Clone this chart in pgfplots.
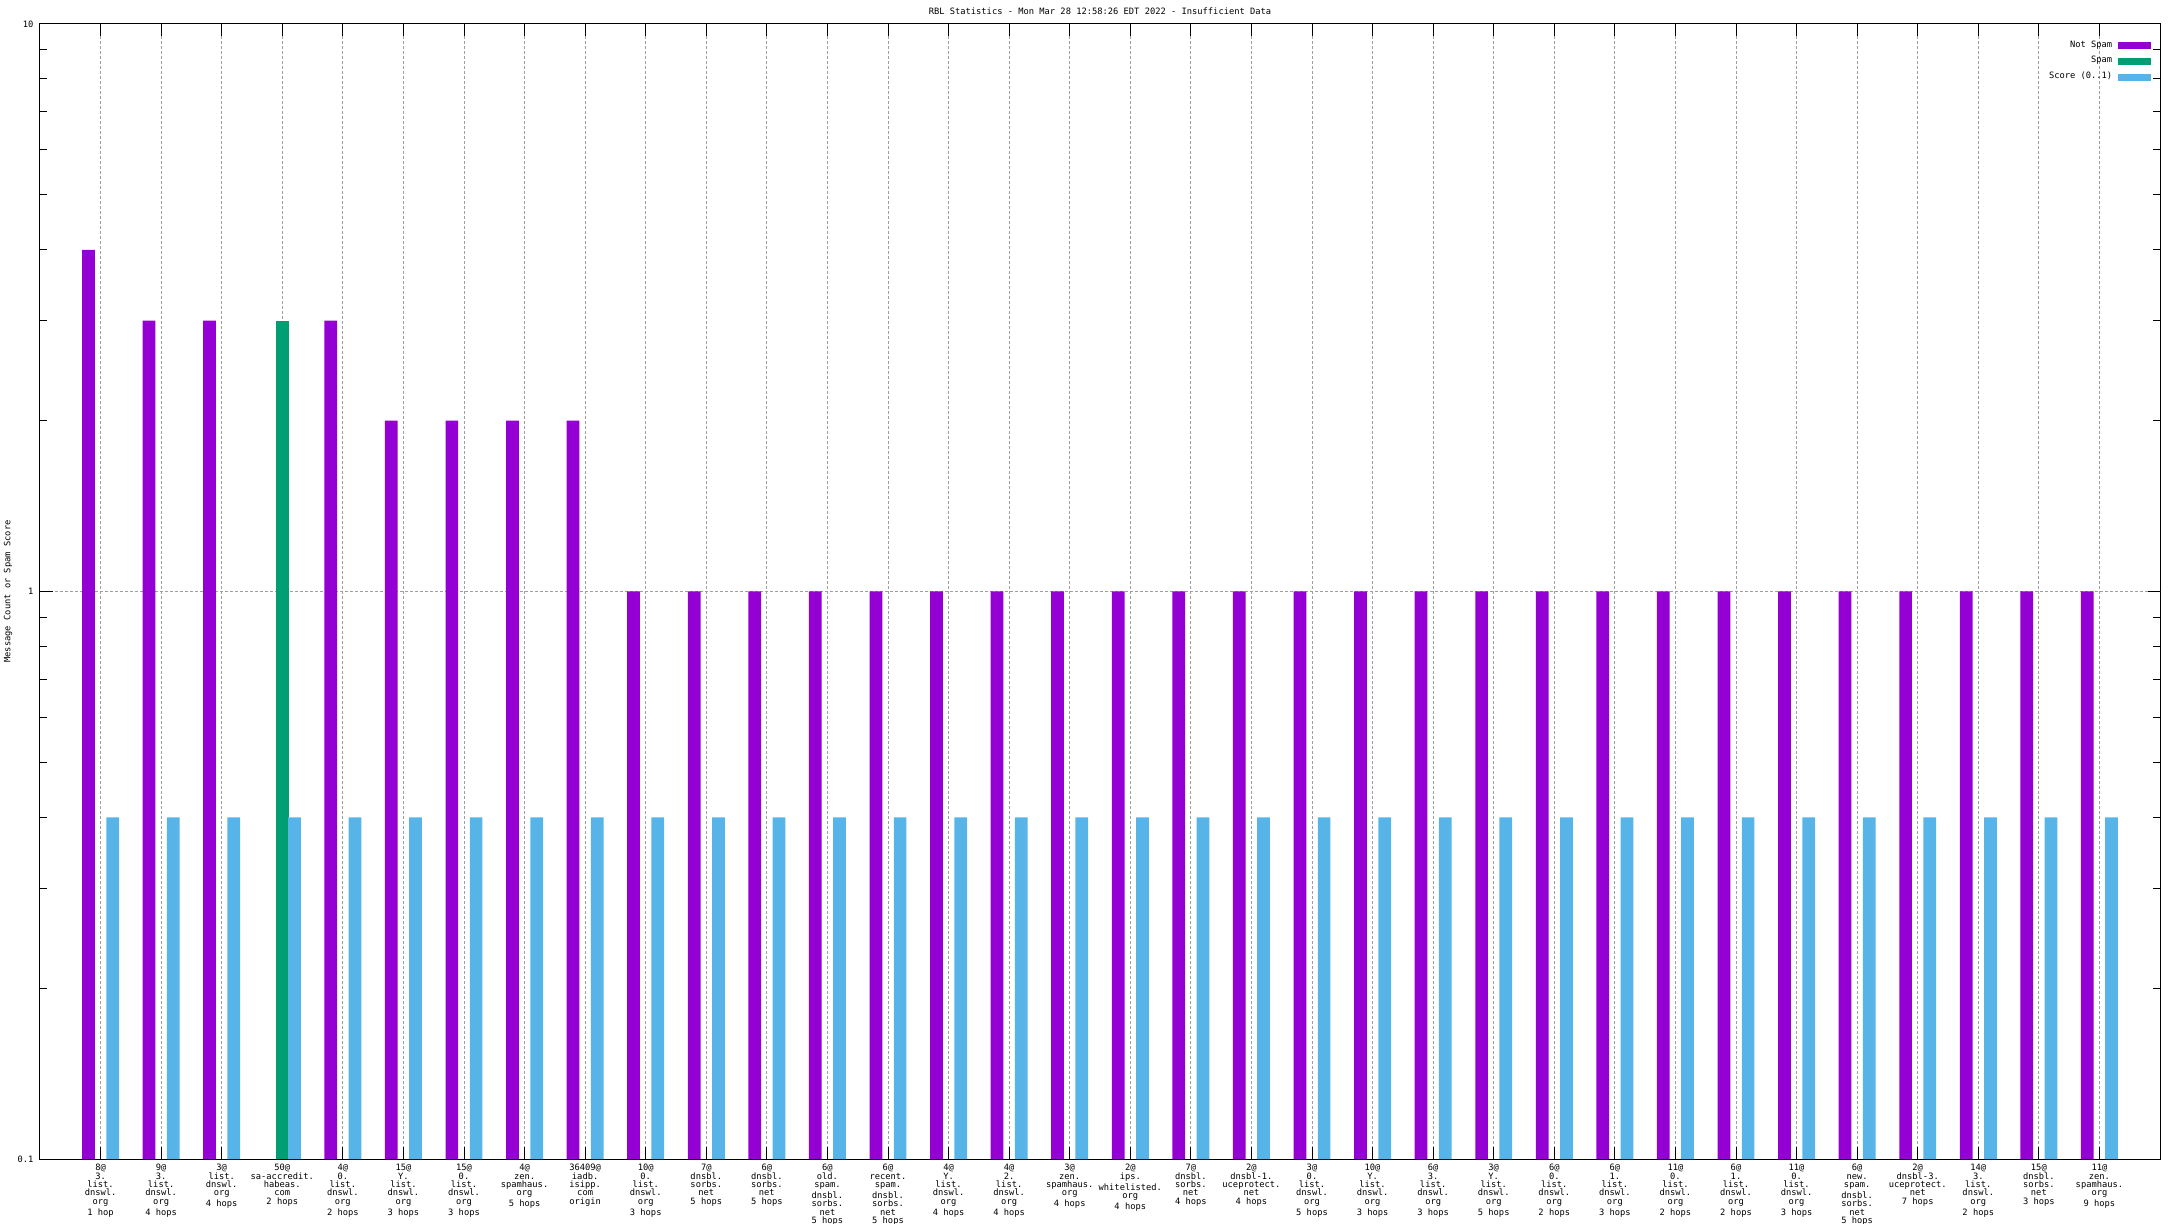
\documentclass[border=0pt]{standalone}
\usepackage{fontspec}
\setmonofont{DejaVu Sans Mono}
\usepackage{pgfplots}
\pgfplotsset{compat=1.18}
\definecolor{cNot}{HTML}{9400D3}
\definecolor{cSpam}{HTML}{009E73}
\definecolor{cScore}{HTML}{56B4E9}
\newcommand{\gfont}{\ttfamily\fontsize{3.5}{3.35}\selectfont}
\begin{document}
\begin{tikzpicture}
\path[use as bounding box] (-16pt,-26pt) rectangle (854.4pt,463.6pt);
\begin{axis}[
  scale only axis, width=848pt, height=454pt,
  at={(0,0)}, anchor=south west,
  xmin=-1, xmax=34,
  ymode=log, ymin=0.1, ymax=10, log origin=infty,
  xtick={0,...,33},
  xticklabels={
    {8@\\3.\\list.\\dnswl.\\org\\1 hop},
    {9@\\3.\\list.\\dnswl.\\org\\4 hops},
    {3@\\list.\\dnswl.\\org\\4 hops},
    {50@\\sa-accredit.\\habeas.\\com\\2 hops},
    {4@\\0.\\list.\\dnswl.\\org\\2 hops},
    {15@\\Y.\\list.\\dnswl.\\org\\3 hops},
    {15@\\0.\\list.\\dnswl.\\org\\3 hops},
    {4@\\zen.\\spamhaus.\\org\\5 hops},
    {36409@\\iadb.\\isipp.\\com\\origin},
    {10@\\0.\\list.\\dnswl.\\org\\3 hops},
    {7@\\dnsbl.\\sorbs.\\net\\5 hops},
    {6@\\dnsbl.\\sorbs.\\net\\5 hops},
    {6@\\old.\\spam.\\dnsbl.\\sorbs.\\net\\5 hops},
    {6@\\recent.\\spam.\\dnsbl.\\sorbs.\\net\\5 hops},
    {4@\\Y.\\list.\\dnswl.\\org\\4 hops},
    {4@\\2.\\list.\\dnswl.\\org\\4 hops},
    {3@\\zen.\\spamhaus.\\org\\4 hops},
    {2@\\ips.\\whitelisted.\\org\\4 hops},
    {7@\\dnsbl.\\sorbs.\\net\\4 hops},
    {2@\\dnsbl-1.\\uceprotect.\\net\\4 hops},
    {3@\\0.\\list.\\dnswl.\\org\\5 hops},
    {10@\\Y.\\list.\\dnswl.\\org\\3 hops},
    {6@\\3.\\list.\\dnswl.\\org\\3 hops},
    {3@\\Y.\\list.\\dnswl.\\org\\5 hops},
    {6@\\0.\\list.\\dnswl.\\org\\2 hops},
    {6@\\1.\\list.\\dnswl.\\org\\3 hops},
    {11@\\0.\\list.\\dnswl.\\org\\2 hops},
    {6@\\1.\\list.\\dnswl.\\org\\2 hops},
    {11@\\0.\\list.\\dnswl.\\org\\3 hops},
    {6@\\new.\\spam.\\dnsbl.\\sorbs.\\net\\5 hops},
    {2@\\dnsbl-3.\\uceprotect.\\net\\7 hops},
    {14@\\3.\\list.\\dnswl.\\org\\2 hops},
    {15@\\dnsbl.\\sorbs.\\net\\3 hops},
    {11@\\zen.\\spamhaus.\\org\\9 hops}
  },
  ytick={0.1,1,10}, yticklabels={0.1,1,10},
  minor ytick={0.2,0.3,0.4,0.5,0.6,0.7,0.8,0.9,2,3,4,5,6,7,8,9},
  extra y ticks={1}, extra y tick labels={}, extra y tick style={grid=major},
  xmajorgrids=true,
  major grid style={color=gray!75, dash pattern=on 1.2pt off 0.8pt, line width=0.4pt},
  tick align=inside, major tick length=5pt, minor tick length=2.8pt,
  tick style={black, line width=0.4pt},
  axis line style={black, line width=0.4pt},
  xticklabel style={font=\gfont, align=center, anchor=north, inner sep=0pt, yshift=-1.9pt},
  yticklabel style={font=\gfont, anchor=east, inner sep=0pt, xshift=-2.4pt},
  title={RBL Statistics - Mon Mar 28 12:58:26 EDT 2022 - Insufficient Data},
  every axis title/.style={font=\gfont, at={(0.5,1)}, anchor=center, yshift=5.2pt, inner sep=0pt},
  ylabel={Message Count or Spam Score},
  ylabel style={font=\gfont, at={(axis description cs:-0.0151,0.5)}, anchor=center, inner sep=0pt},
  legend style={draw=none, fill=none, font=\gfont, at={(rel axis cs:1,1)}, anchor=north east,
    xshift=-3.6pt, yshift=-6pt, row sep=1.2pt, inner sep=0pt, nodes={inner sep=0.5pt},
    /tikz/every odd column/.append style={column sep=1.6pt}},
  legend cell align=right, legend plot pos=right,
]
\addplot[ybar, bar width=0.21, bar shift=-0.2, fill=cNot, draw=none,
  legend image code/.code={\fill[cNot] (0pt,-1.4pt) rectangle (13.2pt,1.4pt);}]
  coordinates {(0,4) (1,3) (2,3) (4,3) (5,2) (6,2) (7,2) (8,2)
  (9,1) (10,1) (11,1) (12,1) (13,1) (14,1) (15,1) (16,1) (17,1) (18,1) (19,1) (20,1)
  (21,1) (22,1) (23,1) (24,1) (25,1) (26,1) (27,1) (28,1) (29,1) (30,1) (31,1) (32,1) (33,1)};
\addlegendentry{Not Spam}
\addplot[ybar, bar width=0.21, bar shift=0, fill=cSpam, draw=none,
  legend image code/.code={\fill[cSpam] (0pt,-1.4pt) rectangle (13.2pt,1.4pt);}]
  coordinates {(3,3)};
\addlegendentry{Spam}
\addplot[ybar, bar width=0.21, bar shift=0.2, fill=cScore, draw=none,
  legend image code/.code={\fill[cScore] (0pt,-1.4pt) rectangle (13.2pt,1.4pt);}]
  coordinates {(0,0.4) (1,0.4) (2,0.4) (3,0.4) (4,0.4) (5,0.4) (6,0.4) (7,0.4) (8,0.4)
  (9,0.4) (10,0.4) (11,0.4) (12,0.4) (13,0.4) (14,0.4) (15,0.4) (16,0.4) (17,0.4) (18,0.4) (19,0.4) (20,0.4)
  (21,0.4) (22,0.4) (23,0.4) (24,0.4) (25,0.4) (26,0.4) (27,0.4) (28,0.4) (29,0.4) (30,0.4) (31,0.4) (32,0.4) (33,0.4)};
\addlegendentry{Score (0..1)}
\end{axis}
\end{tikzpicture}
\end{document}
